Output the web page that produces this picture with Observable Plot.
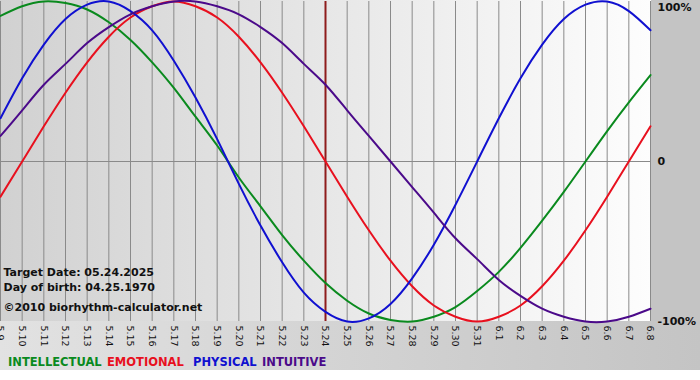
<!DOCTYPE html>
<html>
<head>
<meta charset="utf-8">
<script src="https://cdn.jsdelivr.net/npm/d3@7"></script>
<script src="https://cdn.jsdelivr.net/npm/@observablehq/plot@0.6"></script>
<style>
  html, body { margin: 0; padding: 0; background: #ffffff; }
  #wrap {
    width: 700px; height: 370px; position: relative; overflow: hidden;
    background:
      linear-gradient(to right, #d1d1d1, #fdfdfd) 0 0 / 651px 321px no-repeat,
      linear-gradient(to right, #e2e2e2, #c4c4c4) 0 321px / 700px 49px no-repeat,
      #c4c4c4;
  }
  #chart svg { display: block; background: transparent; }
  #legend span {
    position: absolute; top: 355px;
    font: bold 11.5px "DejaVu Sans", Verdana, sans-serif; white-space: nowrap;
  }
</style>
</head>
<body>
<div id="wrap">
  <div id="chart"></div>
  <div id="legend"></div>
</div>
<script>
// Day labels (5.9 .. 6.8), one per day
const dayLabels = ["5.9","5.10","5.11","5.12","5.13","5.14","5.15","5.16","5.17","5.18","5.19","5.20","5.21","5.22","5.23","5.24","5.25","5.26","5.27","5.28","5.29","5.30","5.31","6.1","6.2","6.3","6.4","6.5","6.6","6.7","6.8"];
const targetDay = "5.24";

// Series values, -1 .. 1, one per day
const intellectual = [0.91,0.97,1.00,0.99,0.95,0.87,0.76,0.62,0.46,0.28,0.10,-0.10,-0.28,-0.46,-0.62,-0.76,-0.87,-0.95,-0.99,-1.00,-0.97,-0.91,-0.81,-0.69,-0.54,-0.37,-0.19,0.00,0.19,0.37,0.54];
const emotional    = [-0.22,0.00,0.22,0.43,0.62,0.78,0.90,0.97,1.00,0.97,0.90,0.78,0.62,0.43,0.22,0.00,-0.22,-0.43,-0.62,-0.78,-0.90,-0.97,-1.00,-0.97,-0.90,-0.78,-0.62,-0.43,-0.22,0.00,0.22];
const physical     = [0.27,0.52,0.73,0.89,0.98,1.00,0.94,0.82,0.63,0.40,0.14,-0.14,-0.40,-0.63,-0.82,-0.94,-1.00,-0.98,-0.89,-0.73,-0.52,-0.27,0.00,0.27,0.52,0.73,0.89,0.98,1.00,0.94,0.82];
const intuitive    = [0.16,0.32,0.48,0.61,0.74,0.84,0.92,0.97,1.00,1.00,0.97,0.92,0.84,0.74,0.61,0.48,0.32,0.16,0.00,-0.16,-0.32,-0.48,-0.61,-0.74,-0.84,-0.92,-0.97,-1.00,-1.00,-0.97,-0.92];

const seriesNames  = ["INTELLECTUAL","EMOTIONAL","PHYSICAL","INTUITIVE"];
const seriesColors = ["#0a8a1e","#e8101e","#1010d0","#4b0a8a"];
const yTicks = [1, 0, -1];
const yTickLabels = ["100%", "0", "-100%"];
const infoLines = ["Target Date: 05.24.2025", "Day of birth: 04.25.1970", "©2010 biorhythm-calculator.net"];

const idx = dayLabels.map((_, i) => i);
const seriesValues = [intellectual, emotional, physical, intuitive];
const rows = seriesValues.flatMap((vals, s) => vals.map((v, i) => ({day: i, value: v, series: seriesNames[s]})));

const font = '"DejaVu Sans", Verdana, sans-serif';
const yFmt = d => yTickLabels[yTicks.indexOf(d)];
const infoDy = [-46, -31, -11];

const chart = Plot.plot({
  width: 700,
  height: 345,
  marginLeft: 0,
  marginRight: 50,
  marginTop: 1,
  marginBottom: 24,
  style: {fontFamily: font, background: "transparent", overflow: "visible"},
  x: {domain: [0, dayLabels.length - 1]},
  y: {domain: [-1, 1]},
  color: {domain: seriesNames, range: seriesColors},
  marks: [
    Plot.ruleX(idx, {stroke: "#8a8a8a", strokeWidth: 1}),
    Plot.ruleY([0], {stroke: "#8a8a8a", strokeWidth: 1}),
    Plot.ruleX([dayLabels.indexOf(targetDay)], {stroke: "#8e1c1c", strokeWidth: 2}),
    Plot.line(rows, {x: "day", y: "value", z: "series", stroke: "series", strokeWidth: 2, curve: "natural"}),
    Plot.axisX(idx, {tickRotate: 90, tickSize: 0, tickPadding: 4, fontSize: 9.5, fill: "#111", tickFormat: i => dayLabels[i], label: null}),
    Plot.axisY(yTicks.slice(0, 1), {anchor: "right", tickSize: 0, tickPadding: 7, dy: 6, fontSize: 11, fontWeight: "bold", fill: "#111", tickFormat: yFmt, label: null}),
    Plot.axisY(yTicks.slice(1), {anchor: "right", tickSize: 0, tickPadding: 7, fontSize: 11, fontWeight: "bold", fill: "#111", tickFormat: yFmt, label: null}),
    ...infoLines.map((line, i) => Plot.text([line], {frameAnchor: "bottom-left", text: d => d, dx: 3, dy: infoDy[i], fontSize: 11, fontWeight: "bold", fill: "#111"}))
  ]
});
document.getElementById("chart").append(chart);

const legendLeft = [8, 107, 193, 262];
const legend = document.getElementById("legend");
seriesNames.forEach((n, i) => {
  const s = document.createElement("span");
  s.textContent = n;
  s.style.color = seriesColors[i];
  s.style.left = legendLeft[i] + "px";
  legend.append(s);
});
</script>
</body>
</html>
